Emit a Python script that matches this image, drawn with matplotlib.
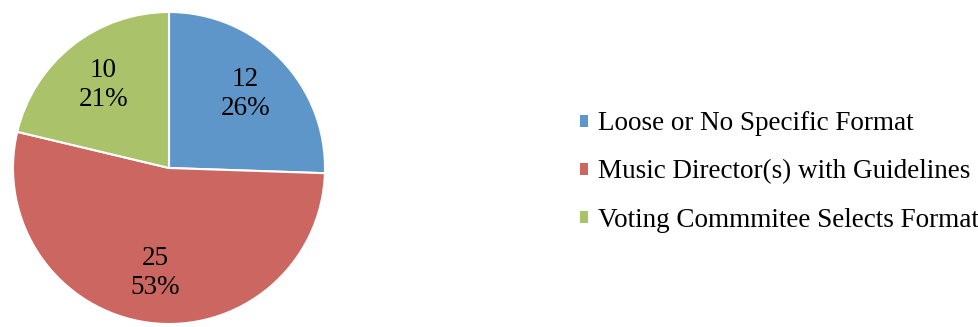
import matplotlib
matplotlib.use("Agg")
import matplotlib.pyplot as plt
from matplotlib.patches import Patch

categories = ["Loose or No Specific Format",
              "Music Director(s) with Guidelines",
              "Voting Commmitee Selects Format"]
counts = [12, 25, 10]
colors = ["#5F96C9", "#CC6660", "#AAC36A"]

plt.rcParams['font.family'] = ['Liberation Serif', 'DejaVu Serif']

W, H = 979, 327
fig = plt.figure(figsize=(W / 100, H / 100), dpi=100)
cx, cy, r = 169, 168, 156
ax = fig.add_axes([(cx - r) / W, (H - cy - r) / H, 2 * r / W, 2 * r / H])

total = sum(counts)

def fmt(pct):
    v = int(round(pct * total / 100.0))
    return f"{v}\n{pct:.0f}%"

wedges, texts, autotexts = ax.pie(
    counts, colors=colors, startangle=90, counterclock=False,
    autopct=fmt, pctdistance=0.68,
    wedgeprops=dict(edgecolor="white", linewidth=1.5),
    textprops=dict(fontsize=19.5, color="black", linespacing=1.2))
ax.set_xlim(-1.0, 1.0)
ax.set_ylim(-1.0, 1.0)
ax.set_aspect("equal")
ax.axis("off")

handles = [Patch(facecolor=c, edgecolor="none") for c in colors]
fig.legend(handles, categories, loc="center left",
           bbox_to_anchor=(580 / W, (H - 172) / H),
           frameon=False, fontsize=19.5, borderpad=0, borderaxespad=0,
           handlelength=0.3, handleheight=0.3, handletextpad=0.35,
           labelspacing=0.85)

fig.savefig("out.png", dpi=100, facecolor="white")
